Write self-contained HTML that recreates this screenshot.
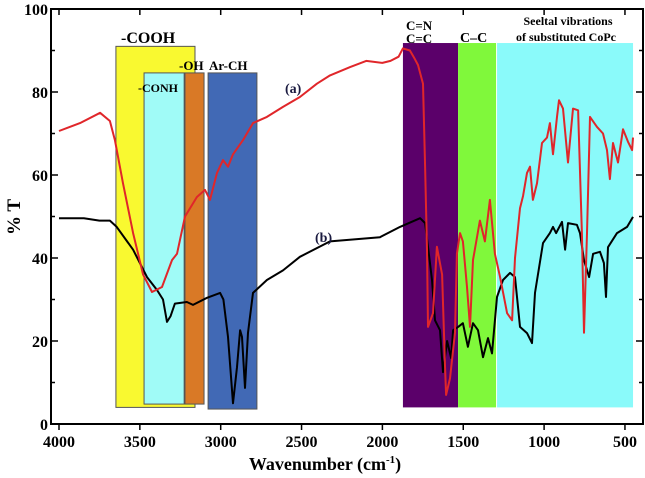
<!DOCTYPE html>
<html><head><meta charset="utf-8"><style>
html,body{margin:0;padding:0;background:#fff;width:645px;height:478px;overflow:hidden}
svg text{font-family:"Liberation Serif",serif;font-weight:bold}
</style></head><body>
<svg id="chart" width="645" height="478" viewBox="0 0 645 478" xmlns="http://www.w3.org/2000/svg">
<g id="bands"></g>
<g id="series"></g>
<g id="axes"></g>
<g id="labels"></g>
</svg>
<script>
const xTicks=[4000,3500,3000,2500,2000,1500,1000,500];
const yTicks=[0,20,40,60,80,100];
const bandNames=["cooh","conh","oh","ar-ch","cn-cc","c-c","skeletal"];
const bandFrom=[3648,3474,3221,3078,1873,1532,1291];
const bandTo=[3159,3226,3103,2776,1532,1297,450];
const bandTop=[91,84.6,84.6,84.6,91.8,91.8,91.8];
const bandBottom=[4,4.8,4.8,3.6,4,4,4];
const bandColors=["#f9f930","#a0fbf7","#d97926","#4169b5","#5b006a","#80f83b","#8afafa"];
const redWn=[4000,3870,3746,3685,3654,3604,3542,3480,3425,3363,3301,3270,3221,3147,3097,3066,3023,2986,2955,2924,2862,2800,2714,2615,2510,2405,2324,2200,2100,2000,1950,1900,1873,1830,1800,1780,1749,1736,1724,1718,1687,1663,1631,1613,1606,1582,1551,1539,1520,1502,1477,1458,1440,1397,1366,1335,1304,1273,1229,1198,1180,1149,1130,1106,1087,1069,1044,1013,982,964,945,920,908,883,852,821,790,766,753,735,716,673,636,611,593,574,543,512,481,456,450];
const redT=[70.6,72.5,75,73,68.4,58,46,36,31.8,33,39.5,41,50,54.7,56.4,54,60.5,63.6,62,65,68.4,72.5,74,76.4,78.8,82,84,86,87.5,87,87.5,88.5,90.5,90,88,86.5,82,62,42,23.4,26.7,42.7,36,14,7,11,22,41,46,44,33,23.4,39.5,49,44,54,41,35.5,26.7,25,40,52,55,60.5,62,54,58,67.7,69,72.5,65,74,78,76,63,76,75.6,46,22,46,74,71.6,70,66,59,67.7,63,71,68,66,69];
const blackWn=[4000,3846,3750,3685,3643,3542,3456,3394,3357,3332,3310,3283,3209,3171,3085,3004,2983,2955,2924,2899,2880,2868,2850,2831,2800,2714,2615,2510,2324,2015,1891,1767,1736,1718,1693,1675,1644,1625,1600,1575,1563,1532,1502,1471,1440,1409,1378,1347,1322,1291,1254,1211,1180,1149,1106,1075,1056,1007,964,945,926,889,870,852,797,778,753,722,697,654,630,617,605,549,487,450];
const blackT=[49.6,49.6,49,49,47.5,42,35.4,32.3,30,24.6,26,29,29.4,28.7,30.4,31.6,30,21,5,13.7,22.6,21,8.7,22,31.6,34.7,37,40.3,44,45,47.5,49.6,48.4,42.7,34.7,25,22.6,12.5,20,15.9,22.6,23.4,24.3,18.6,24.3,22.6,16.1,20.7,17,30.6,34.7,36.4,35.4,23.4,21.9,19.5,31.6,43.6,46,47.5,46,48.7,42,48.4,48,46,39.5,35.4,41,41.5,38.8,30.6,42.6,46,47.5,49.9];
const NS="http://www.w3.org/2000/svg";
function X(w){return 59+(4000-w)*0.1617;}
function Y(t){return 424-t*4.15;}
function mk(tag,attrs,parent){const e=document.createElementNS(NS,tag);for(const k in attrs)e.setAttribute(k,attrs[k]);parent.appendChild(e);return e;}
const bands=document.getElementById('bands');
bandNames.forEach((n,i)=>{
  const x1=X(bandFrom[i]),x2=X(bandTo[i]);
  const r=mk('rect',{x:x1,y:Y(bandTop[i]),width:x2-x1,height:Y(bandBottom[i])-Y(bandTop[i]),fill:bandColors[i],stroke:(i<4?'#555':'none'),'stroke-width':1},bands);
  
  
});
const ser=document.getElementById('series');
function line(wn,t,color,name){
  const d=wn.map((w,i)=>(i?'L':'M')+X(w).toFixed(1)+','+Y(t[i]).toFixed(1)).join('');
  const p=mk('path',{d:d,fill:'none',stroke:color,'stroke-width':2,'stroke-linejoin':'round'},ser);
  
  
}
line(blackWn,blackT,'#000','series-b-line');
line(redWn,redT,'#e0262a','series-a-line');
const ax=document.getElementById('axes');
const L=51,R=643,T=9,B=424;
const fr=mk('rect',{x:L,y:T,width:R-L,height:B-T,fill:'none',stroke:'#000','stroke-width':2},ax);


xTicks.forEach(w=>{
  const x=X(w);
  mk('line',{x1:x,y1:B,x2:x,y2:B+6,stroke:'#000','stroke-width':1.5},ax);
  mk('line',{x1:x,y1:T,x2:x,y2:T+6,stroke:'#000','stroke-width':1.5},ax);
  const tx=mk('text',{x:x,y:B+23,'text-anchor':'middle','font-size':16},ax);
  tx.textContent=w;
  
  
});
for(let v=0;v<=100;v+=10){
  const y=Y(v),len=(v%20===0)?7:4;
  mk('line',{x1:L,y1:y,x2:L+len,y2:y,stroke:'#000','stroke-width':1.5},ax);
  mk('line',{x1:R,y1:y,x2:R-len,y2:y,stroke:'#000','stroke-width':1.5},ax);
}
yTicks.forEach(v=>{
  const tx=mk('text',{x:L-3,y:Y(v)+6,'text-anchor':'end','font-size':16},ax);
  tx.textContent=v;
  
  
});
const lab=document.getElementById('labels');
function txt(s,x,y,size,name,anchor,color){
  const t=mk('text',{x:x,y:y,'font-size':size,'text-anchor':anchor||'start',fill:color||'#000'},lab);
  t.textContent=s;
  
  
  return t;
}
const yt=txt('% T',0,0,19,'y-axis-title','middle');
yt.setAttribute('transform','translate(20,217) rotate(-90)');
const xt=txt('Wavenumber (cm',325,470,18,'x-axis-title','middle');
const sup=document.createElementNS(NS,'tspan');sup.setAttribute('font-size',11);sup.setAttribute('dy',-7);sup.textContent='-1';xt.appendChild(sup);
const cl=document.createElementNS(NS,'tspan');cl.setAttribute('dy',7);cl.textContent=')';xt.appendChild(cl);
txt('-COOH',121,43,16,'label-cooh');
txt('-CONH',138,92,12,'label-conh');
txt('-OH',179,70,13,'label-oh');
txt('Ar-CH',209,70,13,'label-ar-ch');
txt('(a)',285,93,14,'label-series-a','start','#1a1a40');
txt('(b)',315,242,14,'label-series-b','start','#1a1a40');
txt('C=N',406,30,13,'label-cn');
txt('C=C',406,43,13,'label-cc');
txt('C\u2013C',460,42,14,'label-c-c');
txt('Seeltal vibrations',568,25,12,'label-skeletal-1','middle');
txt('of substituted CoPc',566,41,12,'label-skeletal-2','middle');
</script>
</body></html>
